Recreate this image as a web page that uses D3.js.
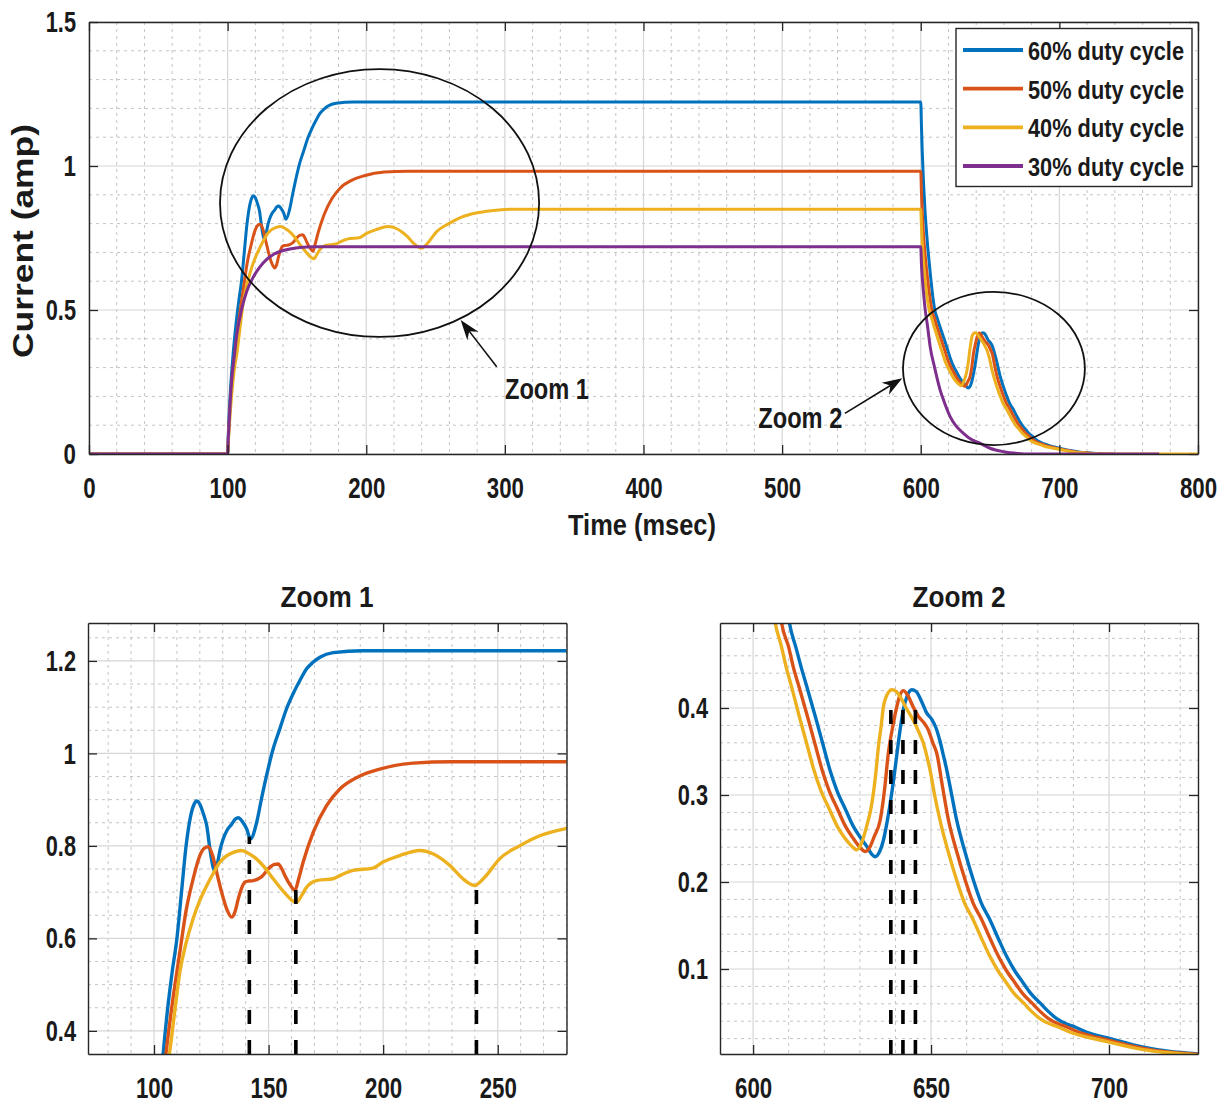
<!DOCTYPE html>
<html><head><meta charset="utf-8">
<script src="https://cdn.jsdelivr.net/npm/d3@7"></script>
<style>
body{margin:0;background:#fff}
text{font-family:"Liberation Sans",Arial,sans-serif;font-weight:bold;fill:#1a1a1a}
</style></head>
<body><svg id="chart" width="1226" height="1104"></svg>
<script>
// ---------- data (time in msec, current in amp) ----------
const seriesNames = ["60% duty cycle", "50% duty cycle", "40% duty cycle", "30% duty cycle"];

const series60 = [[0,0],[100,0],[100.5,0.07],[101,0.13],[102,0.22],[103,0.29],[104,0.35],[106,0.45],[108,0.53],[110,0.6],[112,0.7],[114,0.8],[116,0.865],[117.5,0.89],[118.6,0.897],[120,0.89],[121.5,0.87],[123,0.844],[124.5,0.79],[125.9,0.752],[126.6,0.746],[127.8,0.765],[129,0.795],[130.2,0.815],[132,0.835],[133.9,0.847],[135.5,0.858],[136.8,0.861],[138.5,0.853],[140.4,0.837],[142.1,0.815],[144.8,0.851],[146.9,0.902],[149.1,0.952],[152,1.01],[154.9,1.053],[157.8,1.096],[160.7,1.129],[163.6,1.157],[166.6,1.183],[169.4,1.197],[172.4,1.208],[178.2,1.218],[191.2,1.222],[600,1.222],[600.5,1.14],[601,1.06],[602,0.94],[603,0.85],[604,0.78],[605,0.72],[606,0.67],[607,0.62],[608,0.575],[609,0.535],[610.2,0.498],[612,0.47],[613.5,0.447],[615.1,0.4245],[617.5,0.39],[619.8,0.3555],[621.5,0.33],[623.5,0.3057],[626,0.283],[628.2,0.2636],[630,0.252],[632,0.2406],[633.3,0.232],[634.3,0.229],[635.3,0.233],[636.6,0.248],[637.6,0.268],[638.5,0.29],[639.5,0.318],[640.4,0.347],[641.3,0.375],[642.2,0.398],[643.3,0.414],[644.6,0.421],[645.8,0.419],[647.4,0.407],[648.8,0.394],[650.2,0.387],[651.4,0.377],[652.5,0.362],[653.5,0.345],[654.4,0.329],[655.8,0.3],[657.2,0.271],[659.5,0.235],[661.9,0.202],[664,0.177],[666.6,0.156],[669,0.134],[671.3,0.114],[673.5,0.098],[675.9,0.084],[678,0.072],[680.6,0.061],[683,0.051],[685.3,0.043],[688,0.037],[690,0.034],[694,0.027],[699.3,0.021],[704,0.016],[708.7,0.011],[714,0.007],[720,0.004],[730,0.001]];

const series50 = [[0,0],[100,0],[100.5,0.05],[101,0.1],[102,0.18],[103,0.25],[105.2,0.35],[108,0.46],[111.3,0.571],[114,0.66],[117.1,0.729],[120,0.779],[122,0.795],[123.7,0.798],[125.5,0.78],[127.3,0.744],[129.5,0.7],[131.7,0.664],[133.9,0.646],[135.5,0.66],[136.8,0.686],[138.5,0.712],[139.7,0.722],[141.5,0.724],[143.3,0.725],[146.9,0.733],[150.6,0.754],[152.5,0.76],[154.2,0.761],[155.8,0.75],[157.1,0.736],[159.5,0.715],[161.5,0.704],[163.2,0.73],[165.1,0.765],[169.5,0.83],[175.3,0.887],[181.1,0.923],[189.8,0.951],[198.5,0.966],[213,0.979],[230,0.982],[600,0.982],[600.5,0.91],[601,0.85],[602,0.76],[603,0.7],[604,0.65],[605,0.605],[606,0.565],[607,0.53],[608,0.498],[610,0.47],[611.3,0.447],[612.9,0.4245],[615.3,0.39],[617.6,0.3555],[619.3,0.33],[621.3,0.3057],[623.8,0.283],[626,0.2636],[628,0.251],[630,0.24],[631.5,0.235],[632.8,0.24],[634,0.252],[635.7,0.271],[636.9,0.305],[638,0.348],[639.3,0.38],[640.4,0.402],[641.3,0.415],[642.2,0.42],[643.4,0.415],[645,0.401],[646.5,0.39],[648,0.383],[649.2,0.375],[650.5,0.36],[651.6,0.348],[653.2,0.31],[654.9,0.271],[657.2,0.235],[659.6,0.202],[661.7,0.177],[664.3,0.156],[666.7,0.134],[669,0.114],[671.2,0.098],[673.6,0.084],[675.7,0.072],[678.3,0.061],[680.7,0.051],[683,0.043],[685.7,0.037],[687.7,0.034],[691.7,0.027],[697,0.021],[702,0.016],[707,0.011],[712,0.007],[718,0.004],[725,0.002],[740,0]];

const series40 = [[0,0],[100,0],[100.5,0.04],[101,0.08],[102,0.15],[103,0.21],[105,0.3],[106.7,0.35],[109,0.44],[111.3,0.528],[114,0.59],[117.1,0.643],[120,0.682],[123,0.714],[126,0.742],[128.8,0.765],[131.5,0.778],[134.6,0.786],[138.2,0.79],[141.5,0.783],[144.7,0.772],[148,0.755],[152,0.729],[155,0.71],[157.8,0.694],[160,0.683],[162.2,0.678],[164.3,0.692],[166.5,0.71],[170.9,0.725],[178.1,0.729],[182,0.738],[186.8,0.747],[195.6,0.752],[199.9,0.765],[207.2,0.779],[215.9,0.79],[221.7,0.783],[225.5,0.772],[229,0.758],[234.8,0.729],[237.5,0.719],[239.9,0.714],[242.3,0.722],[245,0.736],[250.8,0.772],[259.5,0.8],[268.3,0.822],[279.2,0.837],[290,0.845],[305,0.85],[600,0.85],[600.5,0.79],[601,0.74],[602,0.67],[603,0.61],[604,0.565],[605,0.53],[606.2,0.498],[608,0.47],[609.3,0.447],[610.8,0.4245],[613,0.39],[615.3,0.3555],[617,0.33],[619,0.3057],[621.5,0.283],[623.7,0.2636],[625.5,0.252],[627.3,0.243],[629.1,0.237],[630.5,0.245],[631.9,0.264],[633,0.282],[633.8,0.302],[634.6,0.33],[635.2,0.355],[636,0.38],[636.6,0.401],[637.4,0.413],[638.2,0.419],[639,0.421],[640.2,0.419],[641.3,0.413],[643,0.4],[645,0.386],[646.5,0.373],[647.8,0.36],[648.8,0.345],[649.7,0.329],[651,0.3],[652.5,0.271],[654.8,0.235],[657.2,0.202],[659.3,0.177],[661.9,0.156],[664.3,0.134],[666.6,0.114],[668.8,0.098],[671.2,0.084],[673.3,0.072],[676,0.061],[678.3,0.051],[680.6,0.043],[683.3,0.037],[685.3,0.034],[689.3,0.027],[694.6,0.021],[700,0.016],[705,0.011],[710,0.007],[716,0.004],[722,0.002],[730,0],[800,0]];

const series30 = [[0,0],[100,0],[100.5,0.055],[101,0.1],[102,0.19],[103,0.26],[104.6,0.33],[106.5,0.41],[110,0.5],[113.8,0.565],[118,0.61],[123.3,0.65],[128,0.675],[133,0.693],[139,0.705],[145,0.712],[152,0.717],[162,0.72],[600,0.72],[600.5,0.66],[601,0.62],[602,0.56],[603,0.51],[605,0.44],[606.8,0.372],[610,0.3],[614,0.222],[617,0.18],[621.2,0.13],[625,0.1],[630.8,0.072],[636,0.052],[642.9,0.037],[650,0.02],[659.7,0.008],[670,0.002],[680,0],[772,0]];

// tick values
const mainXTicks = [0,100,200,300,400,500,600,700,800];
const mainYTicks = [0,0.5,1,1.5];
const zoom1XTicks = [100,150,200,250];
const zoom1YTicks = [0.4,0.6,0.8,1,1.2];
const zoom2XTicks = [600,650,700];
const zoom2YTicks = [0.1,0.2,0.3,0.4];

// dashed marker lines (time, current at top)
const zoom1Markers = [[141.6,0.82],[161.9,0.707],[240.7,0.713]];
const zoom2Markers = [[638.7,0.412],[642.1,0.412],[645.6,0.412]];

// annotations in data units of the main plot
const ellipse1 = {t:209.6, v:0.8715, rt:115.1, rv:0.465};
const ellipse2 = {t:652.8, v:0.297, rt:65.6, rv:0.266};
const arrow1 = {from:[294.1,0.303], to:[268.1,0.465]};
const arrow2 = {from:[545.3,0.141], to:[586.7,0.263]};
const note1 = {t:300.1, v:0.191, text:"Zoom 1"};
const note2 = {t:482.8, v:0.089, text:"Zoom 2"};

// ---------- styles ----------
const colors = ["#0072BD","#D95319","#EDB120","#7E2F8E"];
const allSeries = [series60, series50, series40, series30];

const svg = d3.select("#chart");
svg.append("rect").attr("width",1226).attr("height",1104).attr("fill","#fff");

function fitText(sel, len){
  sel.attr("textLength", len).attr("lengthAdjust","spacingAndGlyphs");
}
function tickLen(s){
  let n=0; for(const c of s){ n += (c==='.') ? 5.5 : 12.4; } return n;
}
// squeeze a tick label horizontally via transform
function squeeze(node){
  const target = tickLen(node.textContent);
  const nat = node.getComputedTextLength();
  if(!nat) return;
  const k = target/nat;
  const x0 = +node.getAttribute("x") || 0;
  node.setAttribute("x", x0/k);
  node.setAttribute("transform", `scale(${k},1)`);
}

function panel(o){
  const x = d3.scaleLinear().domain(o.xDomain).range([o.x0,o.x1]);
  const y = d3.scaleLinear().domain(o.yDomain).range([o.y1,o.y0]);
  const g = svg.append("g");
  // minor grid
  const xm = d3.range(Math.ceil(o.xDomain[0]/o.xMinor)*o.xMinor, o.xDomain[1]+1e-9, o.xMinor)
    .filter(v=>!o.xTicks.some(t=>Math.abs(t-v)<1e-6));
  const ym = d3.range(Math.ceil(o.yDomain[0]/o.yMinor-1e-9)*o.yMinor, o.yDomain[1]+1e-9, o.yMinor)
    .filter(v=>!o.yTicks.some(t=>Math.abs(t-v)<1e-6) && v>o.yDomain[0]+1e-6 && v<o.yDomain[1]-1e-6);
  g.selectAll(".xm").data(xm).join("line")
    .attr("x1",d=>x(d)).attr("x2",d=>x(d)).attr("y1",o.y0).attr("y2",o.y1)
    .attr("stroke","#c4c4c4").attr("stroke-width",1).attr("stroke-dasharray","3,4");
  g.selectAll(".ym").data(ym).join("line")
    .attr("y1",d=>y(d)).attr("y2",d=>y(d)).attr("x1",o.x0).attr("x2",o.x1)
    .attr("stroke","#c4c4c4").attr("stroke-width",1).attr("stroke-dasharray","3,4");
  // major grid
  g.selectAll(".xg").data(o.xTicks).join("line")
    .attr("x1",d=>x(d)).attr("x2",d=>x(d)).attr("y1",o.y0).attr("y2",o.y1)
    .attr("stroke","#d6d6d6").attr("stroke-width",1.2);
  g.selectAll(".yg").data(o.yTicks).join("line")
    .attr("y1",d=>y(d)).attr("y2",d=>y(d)).attr("x1",o.x0).attr("x2",o.x1)
    .attr("stroke","#d6d6d6").attr("stroke-width",1.2);
  // clip
  const cid = "clip"+o.id;
  svg.append("clipPath").attr("id",cid).append("rect")
    .attr("x",o.x0).attr("y",o.y0).attr("width",o.x1-o.x0).attr("height",o.y1-o.y0);
  const lg = svg.append("g").attr("clip-path",`url(#${cid})`);
  const line = d3.line().x(d=>x(d[0])).y(d=>y(d[1])).curve(d3.curveMonotoneX);
  o.series.forEach(i=>{
    lg.append("path").datum(allSeries[i]).attr("d",line)
      .attr("fill","none").attr("stroke",colors[i]).attr("stroke-width",o.lw)
      .attr("stroke-linejoin","round");
  });
  // markers
  (o.markers||[]).forEach(m=>{
    lg.append("line").attr("x1",x(m[0])).attr("x2",x(m[0]))
      .attr("y1",o.y1).attr("y2",y(m[1]))
      .attr("stroke","#000").attr("stroke-width",3.6).attr("stroke-dasharray","14,16");
  });
  // axes
  const fmt = d=>String(d);
  const ax = (gen, tr)=> {
    const a = svg.append("g").attr("transform",tr).call(gen);
    a.attr("font-size",30).attr("font-family",null);
    a.selectAll("path.domain").attr("stroke","#262626").attr("stroke-width",1.4);
    a.selectAll(".tick line").attr("stroke","#262626").attr("stroke-width",1.3);
    a.selectAll("text").attr("fill","#1a1a1a").each(function(){ squeeze(this); });
    return a;
  };
  ax(d3.axisBottom(x).tickValues(o.xTicks).tickFormat(fmt).tickSizeInner(-9).tickSizeOuter(0).tickPadding(23), `translate(0,${o.y1})`);
  ax(d3.axisLeft(y).tickValues(o.yTicks).tickFormat(fmt).tickSizeInner(-9).tickSizeOuter(0).tickPadding(o.ypad||13), `translate(${o.x0},0)`);
  ax(d3.axisTop(x).tickValues(o.xTicks).tickFormat("").tickSizeInner(-9).tickSizeOuter(0), `translate(0,${o.y0})`);
  ax(d3.axisRight(y).tickValues(o.yTicks).tickFormat("").tickSizeInner(-9).tickSizeOuter(0), `translate(${o.x1},0)`);
  return {x,y,g};
}

// main plot
const main = panel({id:"m", x0:89, x1:1198, y0:22, y1:454, xDomain:[0,800], yDomain:[0,1.5],
  xTicks:mainXTicks, yTicks:mainYTicks, xMinor:20, yMinor:0.1, series:[0,1,2,3], lw:3});

// zoom 1
const z1 = panel({id:"z1", x0:88, x1:566.5, y0:623, y1:1054, xDomain:[71.2,280], yDomain:[0.35,1.282],
  xTicks:zoom1XTicks, yTicks:zoom1YTicks, xMinor:10, yMinor:0.05, series:[0,1,2], lw:3.4,
  markers:zoom1Markers, ypad:12});

// zoom 2
const z2 = panel({id:"z2", x0:720, x1:1198, y0:623, y1:1054, xDomain:[590.7,725], yDomain:[0.0023,0.4977],
  xTicks:zoom2XTicks, yTicks:zoom2YTicks, xMinor:10, yMinor:0.02, series:[0,1,2], lw:3.4,
  markers:zoom2Markers, ypad:12});

// axis labels and titles
fitText(svg.append("text").attr("x",642).attr("y",535).attr("text-anchor","middle")
  .attr("font-size",30).text("Time (msec)"), 148);
fitText(svg.append("text").attr("transform","translate(33,241) rotate(-90)").attr("text-anchor","middle")
  .attr("font-size",30).text("Current (amp)"), 234);
fitText(svg.append("text").attr("x",327).attr("y",607).attr("text-anchor","middle")
  .attr("font-size",30).text("Zoom 1"), 93);
fitText(svg.append("text").attr("x",959).attr("y",607).attr("text-anchor","middle")
  .attr("font-size",30).text("Zoom 2"), 93);

// annotations on main plot
const mx = main.x, my = main.y;
[ellipse1, ellipse2].forEach(e=>{
  svg.append("ellipse").attr("cx",mx(e.t)).attr("cy",my(e.v))
    .attr("rx",mx(e.t+e.rt)-mx(e.t)).attr("ry",my(e.v)-my(e.v+e.rv))
    .attr("fill","none").attr("stroke","#111").attr("stroke-width",1.8);
});
[arrow1, arrow2].forEach(a=>{
  const x1=mx(a.from[0]), y1=my(a.from[1]), x2=mx(a.to[0]), y2=my(a.to[1]);
  const ang=Math.atan2(y2-y1,x2-x1), L=17, W=7;
  const bx=x2-L*Math.cos(ang), by=y2-L*Math.sin(ang);
  svg.append("line").attr("x1",x1).attr("y1",y1).attr("x2",bx+4*Math.cos(ang)).attr("y2",by+4*Math.sin(ang))
    .attr("stroke","#111").attr("stroke-width",1.6);
  const p=[[x2,y2],[bx-W*Math.sin(ang)+(-3)*Math.cos(ang), by+W*Math.cos(ang)+(-3)*Math.sin(ang)],
           [bx+3*Math.cos(ang),by+3*Math.sin(ang)],
           [bx+W*Math.sin(ang)+(-3)*Math.cos(ang), by-W*Math.cos(ang)+(-3)*Math.sin(ang)]];
  svg.append("polygon").attr("points",p.map(q=>q.join(",")).join(" ")).attr("fill","#111");
});
[note1, note2].forEach(n=>{
  fitText(svg.append("text").attr("x",mx(n.t)).attr("y",my(n.v)).attr("font-size",29).text(n.text), 84);
});

// legend
const lg = svg.append("g");
lg.append("rect").attr("x",956).attr("y",28.5).attr("width",236).attr("height",158)
  .attr("fill","#fff").attr("stroke","#262626").attr("stroke-width",1.4);
const legendY = d3.scaleLinear().domain([0,3]).range([50,166]);
seriesNames.forEach((name,i)=>{
  lg.append("line").attr("x1",963).attr("x2",1023).attr("y1",legendY(i)).attr("y2",legendY(i))
    .attr("stroke",colors[i]).attr("stroke-width",3.8);
  fitText(lg.append("text").attr("x",1028).attr("y",legendY(i)+10).attr("font-size",26).text(name), 156);
});
</script></body></html>
